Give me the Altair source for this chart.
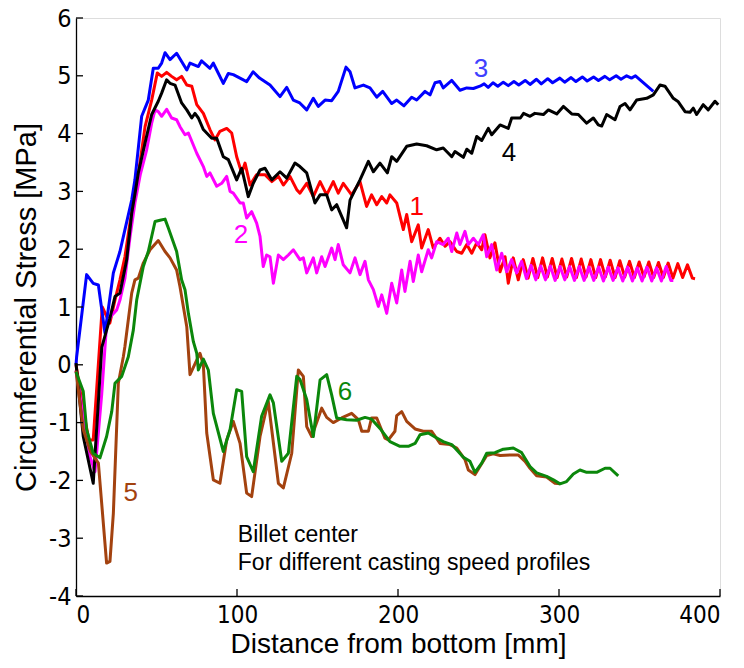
import altair as alt
import pandas as pd

# ---- data ----
red_x = [0, 4, 8, 10.7, 16.3, 21, 24.2, 27.3, 30.4, 33.5, 37.7, 42.9, 47, 50.5, 53.2, 56.3, 59.4, 62.5, 65.6, 68.8,
         71.9, 75, 79.1, 83.2, 86.3, 89.4, 93.6, 96.7, 99.8, 102.9, 105, 108.1, 112.2, 117.4, 121.6, 125.7, 128.8,
         132.9, 137.1, 139.1, 143.3, 147.4, 151.6, 155.7, 159.8, 162.9, 166, 171.2, 176.4, 180.5, 183.6, 186.8,
         189.9, 193, 195, 199.2, 203.3, 205.4, 208.5, 212.6, 214.7, 218.8, 221.9, 226.1, 229.2, 232.3, 236.5,
         239.6, 242.7, 245.8, 248.9, 252, 254, 257.1, 260.2, 263.4, 266.5, 268.5, 271.6, 274.7,
         277.8, 280.8, 283.8, 286.8, 289.8, 292.8, 295.8, 298.8, 301.8, 304.8, 307.8, 310.8, 313.8, 316.8,
         319.8, 322.8, 325.8, 328.8, 331.8, 334.8, 337.8, 340.8, 343.8, 346.8, 349.8, 352.8, 355.8, 358.8,
         361.8, 364.8, 367.8, 370.8, 373.8, 376.8, 379.8, 382.8, 384.5]
red_y = [0, -0.7, -1.3, -1.3, 1.0, 0.72, 1.12, 1.47, 1.87, 2.45, 3.1, 4.12, 4.58, 5.05, 4.99, 5.06, 4.99, 4.93, 4.99, 4.84,
         4.82, 4.50, 4.35, 4.07, 3.89, 4.04, 4.09, 4.01, 3.60, 3.32, 3.49, 3.11, 3.29, 3.29, 3.17, 3.26, 3.11,
         3.26, 3.03, 2.97, 3.14, 2.91, 3.17, 2.94, 3.17, 2.97, 3.14, 2.94, 3.17, 2.74, 2.94, 2.77,
         2.91, 2.80, 2.94, 2.80, 2.34, 2.60, 2.13, 2.42, 2.02, 2.34, 2.02, 2.19, 2.05, 2.13, 1.96,
         1.93, 2.08, 1.93, 2.11, 1.99, 2.25, 1.85, 2.11, 1.61, 1.87, 1.41, 1.85, 1.47,
         1.82, 1.50, 1.84, 1.51, 1.85, 1.52, 1.84, 1.51, 1.83, 1.52, 1.84, 1.51, 1.83, 1.52,
         1.82, 1.51, 1.82, 1.52, 1.81, 1.51, 1.80, 1.52, 1.79, 1.51, 1.78, 1.52, 1.78, 1.51,
         1.77, 1.51, 1.76, 1.50, 1.75, 1.51, 1.73, 1.50, 1.49]

mag_x = [0, 5, 8.7, 11.8, 16, 19, 22, 25.3, 27.3, 30.4, 33.5, 36.6, 40, 43.9, 47, 49.1, 51.1, 53.2, 56.3, 59.4,
         62.5, 64.6, 67.7, 69.8, 75, 79.1, 81.2, 83.2, 87.4, 90.5, 93.6, 95.7, 97.7, 101.9, 103.9, 106, 109.1,
         112.2, 114.3, 116.3, 118.4, 120.5, 122.6, 125.7, 128.8, 131.9, 135, 139.1, 141.2, 143.3, 147.4, 149.5,
         152.6, 154.7, 158.8, 160.9, 162.9, 166, 170.2, 173.3, 176.4, 179.5, 181.6, 184.7, 187.8, 189.9, 193,
         196.1, 199.2, 202.3, 204.3, 207.5, 209.5, 212.6, 214.7, 218.8, 220.9, 224, 228.1, 231.2, 233.4, 236.5,
         238.5, 241.6, 243.7, 246.8, 249.9, 253, 255.1, 258.2, 261.3, 264.4, 267.5, 270.6, 273.7,
         276.8, 279.8, 282.6, 285.6, 288.6, 291.6, 294.6, 297.6, 300.6, 303.6, 306.6, 309.6, 312.6, 315.6,
         318.6, 321.6, 324.6, 327.6, 330.6, 333.6, 336.6, 339.6, 342.6, 345.6, 348.6, 351.6, 354.6, 357.6,
         360.6, 363.6, 366.6, 369.5, 371]
mag_y = [-0.1, -1.0, -1.59, -1.85, -0.5, 0.7, 0.85, 0.95, 1.12, 1.5, 2.2, 2.8, 3.3, 3.72, 4.18, 4.41, 4.38, 4.30, 4.42, 4.27,
         4.24, 4.12, 3.98, 4.01, 3.66, 3.43, 3.26, 3.32, 3.09, 3.14, 3.26, 3.00, 2.97, 2.80, 2.80, 2.54, 2.65,
         2.45, 2.22, 1.70, 1.90, 1.87, 1.41, 1.90, 1.82, 1.90, 1.99, 1.82, 1.85, 1.59, 1.85, 1.59,
         1.87, 1.70, 2.02, 1.82, 2.08, 1.73, 1.59, 1.85, 1.56, 1.79, 1.47, 1.30, 1.01, 1.21, 0.89,
         1.41, 1.07, 1.64, 1.27, 1.79, 1.44, 1.90, 1.61, 1.99, 1.85, 2.13, 2.08, 2.19, 1.96, 2.28,
         2.08, 2.31, 2.08, 2.19, 2.08, 2.25, 1.87, 2.08, 1.64, 1.93, 1.61, 1.82, 1.59,
         1.79, 1.49, 1.72, 1.47, 1.71, 1.47, 1.71, 1.46, 1.70, 1.47, 1.70, 1.46, 1.70, 1.46,
         1.69, 1.46, 1.69, 1.45, 1.69, 1.46, 1.68, 1.45, 1.69, 1.45, 1.68, 1.45, 1.69, 1.45,
         1.68, 1.45, 1.70, 1.46, 1.46]

blue_x = [0, 0.4, 6.6, 10.7, 13.9, 18, 23.2, 27.3, 30.4, 34.6, 36.6, 40.8, 44.9, 48, 51.1, 53.2, 55.3, 58.4, 62.5,
          68.8, 70.8, 76, 78, 83.2, 85.3, 87.4, 91.5, 94.6, 97.7, 99.8, 106, 110, 114, 120.5, 126.7, 130.9, 135,
          139, 143.3, 147.4, 150.5, 154.7, 158.8, 162.9, 167.7, 170.2, 173.3, 178.5, 182.6, 186.8, 190.5, 196.1,
          199.2, 203.7, 208.5, 211.6, 216.8, 219.9, 223, 226.1, 228.1, 233.4, 238.5, 242.7, 246.8,
          250.9, 253.5, 256, 259, 262, 265.4, 268.5, 272, 275, 279, 282, 286, 289, 293, 296, 300.5, 303.5, 307.5,
          310.5, 314.5, 317.5, 321.5, 324.5, 328.5, 331.5, 335.5, 338.5, 342, 345, 347.5, 358.6]
blue_y = [0, 0.14, 1.56, 1.41, 1.38, 0.55, 1.59, 1.96, 2.34, 2.85, 3.2, 4.3, 4.58, 5.13, 5.13, 5.22, 5.40, 5.28, 5.39,
          5.10, 5.22, 5.16, 5.26, 5.13, 5.22, 5.10, 4.87, 5.04, 5.02, 4.99, 4.90, 5.07, 4.96, 4.84, 4.64, 4.80, 4.58,
          4.53, 4.41, 4.61, 4.47, 4.58, 4.57, 4.73, 5.15, 5.07, 4.79, 4.84, 4.79, 4.63, 4.73, 4.52,
          4.58, 4.48, 4.63, 4.58, 4.73, 4.67, 4.88, 4.90, 4.79, 4.92, 4.75, 4.79, 4.78,
          4.82, 4.86, 4.80, 4.88, 4.82, 4.89, 4.83, 4.90, 4.84, 4.92, 4.85, 4.94, 4.86, 4.95, 4.88, 4.96, 4.89, 4.97,
          4.90, 4.98, 4.91, 4.98, 4.92, 4.99, 4.93, 5.00, 4.94, 5.00, 4.96, 5.00, 4.73]

black_x = [0, 4.5, 10.7, 16, 21, 24.2, 27.3, 31.5, 34.6, 36.6, 38.7, 42.9, 47, 51.1, 53.2, 56.3, 58.4, 61.5, 65.6,
           68.8, 71.9, 73.9, 76, 79.1, 84.3, 87.4, 91.5, 94.6, 99.8, 102.9, 107, 110.1, 114.3, 117.4, 121.6, 126.7,
           130.9, 136, 139.1, 143.3, 148.4, 151.6, 155.7, 158.8, 161.9, 168.1, 170.2, 176.4, 181.6, 184.7, 188.8,
           193.4, 196.1, 199.2, 205.4, 211.6, 217.8, 224, 228.1, 233.4, 235.4, 240.6, 242.7, 245.8, 248.9, 252,
           256.1, 258.2, 263.4, 268.5, 270.6, 276, 278, 282, 285, 290.3, 293.4, 298.6, 302.7, 307.9, 312, 317.2,
           321.3, 324.4, 326.5, 329.6, 334.8, 337.9, 341, 344.1, 348.2, 354.5, 358.6, 362.7, 365.8, 371, 374.1,
           378.3, 381.4, 383.4, 385.5, 389.6, 392.7, 396.9, 398.9]
black_y = [0.03, -1.24, -2.05, 0.3, 0.8, 1.18, 1.24, 1.82, 2.62, 2.95, 3.32, 3.84, 4.33, 4.56, 4.70, 4.93, 4.87, 4.84, 4.53,
           4.41, 4.27, 4.35, 4.27, 4.07, 3.92, 3.92, 3.60, 3.55, 3.20, 3.40, 2.91, 3.14, 3.37, 3.40, 3.20, 3.34,
           3.23, 3.49, 3.43, 3.32, 2.80, 2.94, 2.94, 2.68, 2.77, 2.37, 2.85, 3.20, 3.52, 3.34, 3.49,
           3.32, 3.60, 3.52, 3.78, 3.82, 3.79, 3.72, 3.75, 3.60, 3.69, 3.59, 3.73, 3.66, 3.95, 3.88,
           4.09, 3.98, 4.15, 4.09, 4.27, 4.27, 4.35, 4.30, 4.35, 4.33, 4.41, 4.34, 4.47, 4.34, 4.33, 4.18,
           4.27, 4.15, 4.13, 4.33, 4.24, 4.47, 4.52, 4.41, 4.58, 4.61, 4.67, 4.84, 4.82, 4.61, 4.55,
           4.38, 4.37, 4.44, 4.33, 4.50, 4.41, 4.56, 4.50]

brown_x = [0, 4.5, 9, 13.9, 19, 21.1, 23.2, 26.3, 29.4, 30.4, 34.6, 36.6, 38.7, 41.8, 46, 51.1, 55.3, 58.4, 62.5,
           64.6, 68.8, 70.8, 77, 79.1, 81.2, 85.3, 89.4, 93.6, 97.7, 101.9, 106, 109.1, 114.3, 119.4, 125.7, 128.8,
           134, 138.1, 141.2, 143.3, 146.4, 152.6, 155.7, 159.8, 165, 171.2, 175.4, 177.5, 181.6, 183.6, 186.8,
           191.9, 194, 198.1, 199.2, 202.3, 205.4, 210.6, 215.7, 220.9, 226.1, 232.3, 236.5, 241.6, 243.7, 247.8,
           250.9, 255.1, 259.2, 263.4, 269.6, 274.7, 278.9, 282, 286.1, 292.3, 297.5, 300.6]
brown_y = [-0.1, -1.12, -1.5, -1.70, -3.43, -3.40, -2.57, -0.32, 0.14, 0.32, 1.24, 1.47, 1.50, 1.76, 1.99, 2.15, 1.96, 1.85, 1.64,
           1.35, 0.66, -0.17, 0.2, 0.0, -1.18, -1.99, -2.05, -1.30, -0.98, -1.36, -2.22, -2.28, -1.24, -0.63, -2.05, -2.13,
           -1.53, -0.09, -0.2, -1.07, -1.24, -0.75, -0.91, -1.0, -0.92, -0.84, -0.95, -1.15, -1.15, -0.92, -0.92,
           -1.27, -1.30, -1.15, -0.88, -0.81, -0.98, -1.11, -1.15, -1.15, -1.36, -1.38, -1.44, -1.64, -1.82, -1.90,
           -1.76, -1.57, -1.54, -1.57, -1.56, -1.56, -1.67, -1.79, -1.92, -1.94, -2.05, -2.06]

green_x = [0, 4.5, 6.6, 10.7, 14.9, 19, 22.2, 24.2, 28.4, 32.5, 35.6, 37.7, 41.8, 44.9, 49.1, 52.2, 55.3, 57.3, 62.5,
           65.6, 67.7, 69.8, 72.9, 75, 76, 79.1, 82.2, 85.3, 91.5, 95.7, 99.8, 102.9, 106, 110.1, 115.3, 120.5,
           122.6, 127.8, 131.9, 137.1, 139.1, 143.3, 147.4, 151.6, 155.7, 158.8, 161.9, 168.1, 174.3, 179.5, 183.6,
           188.8, 195, 201.2, 206.4, 210.6, 213.7, 218.8, 223, 228.1, 233.4, 240.6, 244.7, 247.8, 252, 255.1,
           260.2, 265.4, 271.6, 276.8, 282, 286.1, 292.3, 296.5, 300.6, 304.7, 308.9, 313, 317.2, 323.4, 328.6,
           331.7, 336.8]
green_y = [-0.12, -0.46, -1.12, -1.53, -1.61, -1.24, -0.81, -0.32, -0.2, 0.14, 0.6, 1.12, 1.70, 1.96, 2.48, 2.50, 2.52, 2.37, 1.96,
           1.47, 1.30, 0.89, 0.40, 0.20, -0.09, 0.10, -0.09, -0.84, -1.50, -1.12, -0.43, -0.46, -1.59, -1.85, -0.89, -0.52,
           -0.66, -1.67, -1.53, -0.20, -0.25, -0.6, -1.24, -0.26, -0.17, -0.52, -0.92, -0.95, -0.96, -0.91, -0.94,
           -1.10, -1.33, -1.41, -1.41, -1.36, -1.21, -1.18, -1.25, -1.33, -1.38, -1.60, -1.67, -1.86, -1.70, -1.53,
           -1.52, -1.46, -1.44, -1.52, -1.76, -1.87, -1.93, -1.99, -2.06, -2.02, -1.89, -1.82, -1.86, -1.86, -1.79,
           -1.79, -1.92]

series_names = ["1", "2", "3", "4", "5", "6"]
series_colors = ["#ff0000", "#ff00ff", "#0000ff", "#000000", "#a3420f", "#0b870b"]

label_text = ["1", "2", "3", "4", "5", "6"]
label_x = [211.6, 102.5, 251.6, 269.0, 34.0, 167.0]
label_y = [2.73, 2.25, 5.12, 3.66, -2.21, -0.47]
label_colors = ["#ff0000", "#ff00ff", "#4040ff", "#000000", "#a3420f", "#0b870b"]

note_text = ["Billet center", "For different casting speed profiles"]
note_x = [100.5, 100.5]
note_y = [-2.94, -3.43]

x_ticks = [0, 100, 200, 300, 400]
y_ticks = [-4, -3, -2, -1, 0, 1, 2, 3, 4, 5, 6]

# ---- build tables ----
rows = []
for name, xs, ys in zip(series_names, [red_x, mag_x, blue_x, black_x, brown_x, green_x],
                        [red_y, mag_y, blue_y, black_y, brown_y, green_y]):
    for i, (a, b) in enumerate(zip(xs, ys)):
        rows.append({"series": name, "x": a, "y": b, "i": i})
df = pd.DataFrame(rows)
labels = pd.DataFrame({"t": label_text, "x": label_x, "y": label_y, "c": label_colors})
notes = pd.DataFrame({"t": note_text, "x": note_x, "y": note_y})
xt = pd.DataFrame({"v": x_ticks})
yt = pd.DataFrame({"v": y_ticks})

FONT = "Liberation Sans"
TICKFONT = "Liberation Sans Narrow, Arial Narrow, DejaVu Sans Condensed, Liberation Sans"
W, H = 644, 578

xscale = alt.Scale(domain=[0, 400], nice=False, zero=False)
yscale = alt.Scale(domain=[-4, 6], nice=False, zero=False)

xaxis = alt.Axis(values=x_ticks, ticks=False, grid=False, domainColor="black", domainWidth=1.3,
                 labelExpr="'' + datum.value",
                 labelFontSize=24, labelColor="black", labelPadding=7, labelFont=TICKFONT,
                 title="Distance from bottom [mm]", titleFontSize=28, titleFont=FONT,
                 titleFontWeight="normal", titleColor="black", titlePadding=3)
yaxis = alt.Axis(values=y_ticks, ticks=False, grid=False, domainColor="black", domainWidth=1.3,
                 labelExpr="'' + datum.value",
                 labelFontSize=25, labelColor="black", labelPadding=5, labelFont=TICKFONT,
                 title="Circumferential Stress [MPa]", titleFontSize=29, titleFont=FONT,
                 titleFontWeight="normal", titleColor="black", titlePadding=7)

lines = alt.Chart(df).mark_line(strokeWidth=3, strokeJoin="round").encode(
    x=alt.X("x:Q", scale=xscale, axis=xaxis),
    y=alt.Y("y:Q", scale=yscale, axis=yaxis),
    color=alt.Color("series:N", scale=alt.Scale(domain=series_names, range=series_colors), legend=None),
    order="i:Q",
)

xtick_marks = alt.Chart(xt).mark_rule(color="black", strokeWidth=1.3).encode(
    x=alt.X("v:Q", scale=xscale), y=alt.value(H), y2=alt.value(H - 7))
ytick_marks = alt.Chart(yt).mark_rule(color="black", strokeWidth=1.3).encode(
    y=alt.Y("v:Q", scale=yscale), x=alt.value(0), x2=alt.value(7))

label_marks = alt.Chart(labels).mark_text(fontSize=26, font=FONT, align="center", baseline="middle").encode(
    x=alt.X("x:Q", scale=xscale), y=alt.Y("y:Q", scale=yscale), text="t:N",
    color=alt.Color("c:N", scale=None))

note_marks = alt.Chart(notes).mark_text(fontSize=23, font=FONT, align="left", baseline="middle",
                                        color="black").encode(
    x=alt.X("x:Q", scale=xscale), y=alt.Y("y:Q", scale=yscale), text="t:N")

chart = alt.layer(lines, xtick_marks, ytick_marks, label_marks, note_marks).properties(
    width=W, height=H,
    autosize=alt.AutoSizeParams(type="none"),
    padding={"left": 76, "top": 18, "right": 24, "bottom": 72},
).configure_view(stroke=None).configure(background="white")

chart.save("out.html", embed_options={"renderer": "svg", "actions": False})
